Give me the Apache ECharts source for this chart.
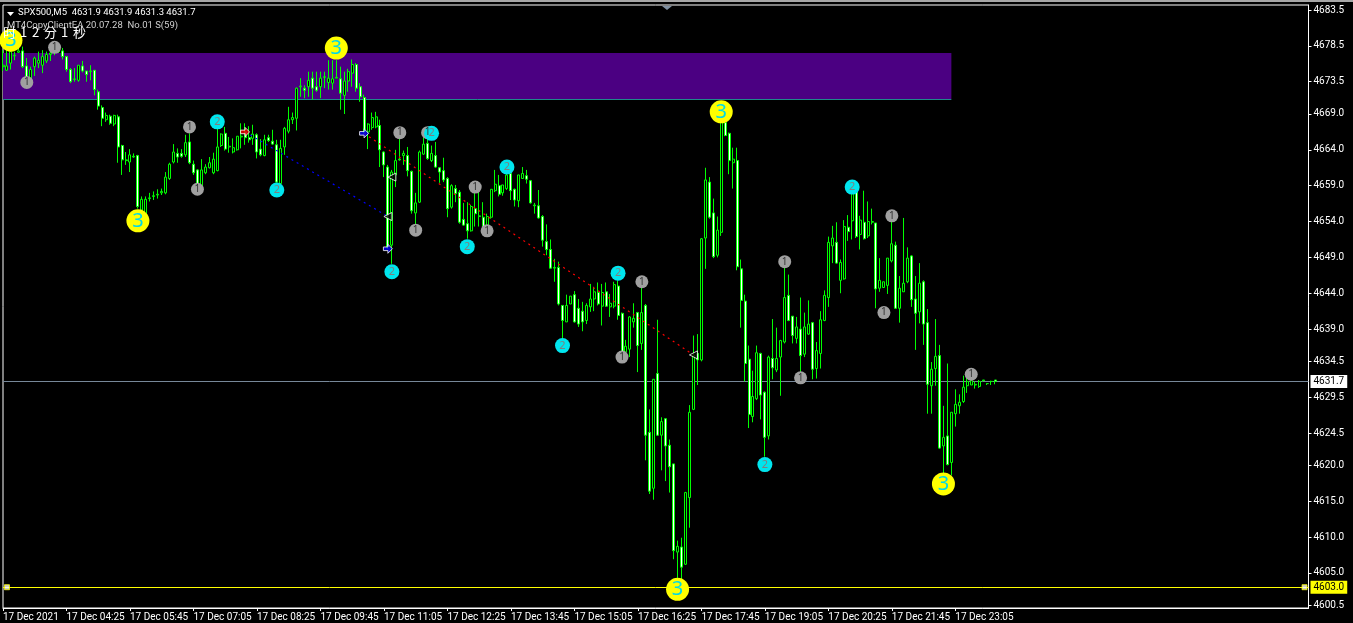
<!DOCTYPE html>
<html>
<head>
<meta charset="utf-8">
<style>
  html, body { margin: 0; padding: 0; background: #000; }
  #chart { width: 1353px; height: 623px; }
</style>
<script src="https://cdn.jsdelivr.net/npm/echarts@6/dist/echarts.min.js"></script>
</head>
<body>
<div id="chart"></div>
<script>
var timeLabels = ["17 Dec 2021", "17 Dec 04:25", "17 Dec 05:45", "17 Dec 07:05", "17 Dec 08:25", "17 Dec 09:45", "17 Dec 11:05", "17 Dec 12:25",
  "17 Dec 13:45", "17 Dec 15:05", "17 Dec 16:25", "17 Dec 17:45", "17 Dec 19:05", "17 Dec 20:25", "17 Dec 21:45", "17 Dec 23:05"];
var priceTicks = [4683.5, 4678.5, 4673.5, 4669.0, 4664.0, 4659.0, 4654.0, 4649.0, 4644.0, 4639.0, 4634.5, 4629.5, 4624.5, 4620.0, 4615.0, 4610.0, 4605.0, 4600.5];

var opens = [
  4675.6, 4675.1, 4676.1, 4677.1, 4677.6, 4677.8, 4675.7, 4673.7, 4675.6, 4676.1,
  4675.8, 4676.4, 4677.3, 4678.0, 4677.7, 4677.8, 4677.0, 4675.2, 4673.8, 4673.7,
  4675.7, 4675.0, 4674.9, 4675.1, 4672.1, 4669.9, 4668.2, 4668.7, 4667.6, 4668.6,
  4664.6, 4662.5, 4662.3, 4663.0, 4663.2, 4655.6, 4655.1, 4657.2, 4657.5, 4657.7,
  4658.0, 4658.0, 4660.0, 4662.3, 4663.5, 4663.5, 4663.3, 4665.1, 4662.0, 4661.2,
  4658.9, 4660.8, 4661.5, 4660.8, 4661.1, 4664.6, 4666.3, 4664.4, 4663.7, 4664.0,
  4665.8, 4666.5, 4665.7, 4665.6, 4666.1, 4664.1, 4663.2, 4665.7, 4665.2, 4664.7,
  4659.3, 4664.4, 4666.6, 4668.2, 4668.4, 4672.8, 4672.6, 4672.8, 4674.0, 4672.8,
  4672.8, 4674.1, 4673.4, 4673.3, 4674.0, 4673.9, 4671.6, 4673.6, 4674.7, 4675.9,
  4672.8, 4671.3, 4666.5, 4667.1, 4667.2, 4667.4, 4663.7, 4661.6, 4650.7, 4660.5,
  4662.6, 4663.2, 4663.2, 4661.0, 4655.2, 4656.7, 4663.4, 4664.9, 4662.5, 4663.2,
  4661.5, 4661.1, 4660.0, 4656.0, 4658.6, 4658.1, 4654.3, 4653.7, 4652.7, 4655.8,
  4654.7, 4654.6, 4653.3, 4654.6, 4658.3, 4659.0, 4658.0, 4658.6, 4660.7, 4658.5,
  4656.9, 4660.0, 4660.4, 4659.7, 4656.2, 4656.2, 4654.7, 4651.2, 4650.1, 4647.5,
  4647.6, 4642.3, 4640.0, 4642.5, 4643.8, 4641.9, 4641.5, 4640.2, 4642.1, 4643.2,
  4644.1, 4642.2, 4644.2, 4642.1, 4642.2, 4645.0, 4641.2, 4635.8, 4636.2, 4640.0,
  4641.3, 4637.0, 4642.3, 4624.6, 4616.8, 4632.8, 4624.2, 4626.5, 4622.8, 4620.2,
  4607.9, 4608.6, 4606.2, 4615.5, 4627.8, 4635.6, 4634.7, 4651.7, 4659.5, 4655.2,
  4649.3, 4652.5, 4667.8, 4666.3, 4662.2, 4662.5, 4647.4, 4642.9, 4634.8, 4626.8,
  4629.3, 4635.6, 4630.2, 4624.1, 4634.9, 4633.3, 4635.1, 4637.2, 4643.7, 4640.8,
  4637.7, 4639.0, 4635.5, 4638.3, 4639.9, 4633.5, 4635.6, 4640.2, 4643.4, 4650.6,
  4651.1, 4645.8, 4646.0, 4653.2, 4654.1, 4658.2, 4652.2, 4653.9, 4652.0, 4653.9,
  4653.8, 4644.7, 4644.8, 4645.1, 4648.5, 4650.7, 4641.9, 4644.2, 4645.6, 4649.2,
  4643.2, 4641.4, 4645.6, 4639.9, 4631.1, 4633.5, 4635.3, 4622.7, 4624.1, 4620.4,
  4627.2, 4628.3, 4628.9, 4631.1, 4631.2, 4631.2, 4631.0, 4631.8, 4631.4, 4631.7, 4631.9
];
var closes = [
  4675.8, 4675.7, 4677.7, 4677.2, 4677.8, 4675.6, 4674.0, 4675.2, 4676.8, 4676.5,
  4677.0, 4677.3, 4677.5, 4678.1, 4678.2, 4677.0, 4675.2, 4673.5, 4673.9, 4675.8,
  4675.0, 4674.5, 4675.0, 4672.4, 4670.1, 4668.4, 4668.8, 4667.7, 4668.8, 4664.4,
  4662.6, 4662.6, 4663.3, 4663.1, 4656.1, 4657.1, 4657.1, 4657.3, 4657.6, 4657.8,
  4658.2, 4660.2, 4662.0, 4663.7, 4663.0, 4663.1, 4665.0, 4662.2, 4660.8, 4659.1,
  4661.2, 4661.6, 4662.2, 4662.7, 4664.4, 4666.2, 4664.1, 4664.5, 4664.3, 4665.9,
  4665.9, 4665.7, 4665.4, 4666.2, 4663.7, 4663.3, 4665.4, 4665.3, 4664.8, 4659.5,
  4664.2, 4667.0, 4668.2, 4668.5, 4672.6, 4672.9, 4672.3, 4673.7, 4672.6, 4672.3,
  4674.0, 4674.2, 4674.0, 4673.9, 4674.1, 4671.9, 4673.6, 4674.9, 4675.9, 4672.6,
  4671.4, 4666.5, 4667.6, 4668.5, 4668.6, 4664.0, 4661.9, 4650.5, 4660.9, 4662.5,
  4662.7, 4663.5, 4661.1, 4655.5, 4656.6, 4663.7, 4664.8, 4662.8, 4663.5, 4661.6,
  4660.9, 4659.8, 4655.8, 4659.0, 4657.9, 4653.9, 4653.5, 4652.7, 4656.1, 4655.1,
  4654.8, 4653.3, 4654.7, 4658.5, 4659.2, 4657.8, 4659.1, 4660.5, 4658.3, 4657.0,
  4660.5, 4660.7, 4659.9, 4656.6, 4656.3, 4654.5, 4651.4, 4650.1, 4647.5, 4647.6,
  4642.5, 4640.2, 4642.3, 4643.6, 4640.0, 4639.7, 4640.0, 4642.3, 4643.2, 4644.2,
  4642.5, 4644.1, 4642.2, 4642.6, 4645.2, 4640.9, 4635.8, 4636.6, 4640.7, 4640.5,
  4636.7, 4641.3, 4624.2, 4616.4, 4632.0, 4624.2, 4626.1, 4622.7, 4619.8, 4608.1,
  4608.7, 4605.8, 4616.2, 4627.4, 4635.4, 4634.7, 4651.6, 4659.8, 4654.6, 4649.1,
  4652.8, 4667.8, 4666.0, 4662.5, 4662.7, 4647.7, 4643.0, 4634.2, 4627.1, 4629.6,
  4635.7, 4629.8, 4623.9, 4635.1, 4633.6, 4634.9, 4637.4, 4643.4, 4640.2, 4638.1,
  4639.3, 4635.3, 4639.3, 4639.7, 4633.4, 4636.0, 4640.3, 4643.7, 4651.1, 4651.7,
  4648.2, 4648.3, 4653.3, 4652.6, 4658.1, 4651.9, 4654.2, 4651.6, 4654.0, 4654.0,
  4644.6, 4645.8, 4645.6, 4648.9, 4650.9, 4641.9, 4644.7, 4645.4, 4648.9, 4643.1,
  4641.2, 4645.4, 4639.7, 4631.3, 4633.4, 4635.2, 4622.4, 4623.9, 4620.1, 4627.4,
  4628.5, 4628.8, 4630.9, 4631.7, 4631.8, 4631.3, 4631.7, 4631.9, 4631.4, 4631.7, 4631.7
];
var highs = [
  4677.9, 4678.2, 4678.4, 4677.7, 4678.4, 4678.4, 4676.8, 4675.6, 4677.0, 4677.7,
  4677.9, 4677.7, 4678.9, 4678.9, 4678.9, 4678.2, 4677.1, 4675.4, 4675.4, 4675.8,
  4676.4, 4675.0, 4675.8, 4675.1, 4672.4, 4670.2, 4669.2, 4668.9, 4668.9, 4668.9,
  4664.7, 4663.7, 4664.1, 4663.5, 4663.3, 4657.5, 4657.5, 4658.0, 4658.2, 4658.5,
  4658.6, 4660.9, 4662.2, 4664.8, 4664.2, 4664.1, 4666.1, 4666.3, 4662.5, 4661.3,
  4662.7, 4662.0, 4663.0, 4663.6, 4667.0, 4666.3, 4667.2, 4665.8, 4665.6, 4665.9,
  4667.7, 4667.7, 4667.3, 4667.5, 4666.3, 4665.5, 4666.1, 4666.1, 4666.8, 4665.4,
  4665.4, 4667.2, 4670.0, 4669.2, 4672.7, 4674.0, 4673.0, 4674.9, 4674.9, 4674.9,
  4674.9, 4674.9, 4676.5, 4676.5, 4676.5, 4675.6, 4674.9, 4675.3, 4676.6, 4676.1,
  4673.3, 4671.7, 4667.7, 4669.2, 4669.3, 4668.2, 4663.8, 4661.9, 4661.2, 4664.0,
  4665.6, 4663.9, 4664.4, 4661.1, 4658.0, 4663.9, 4665.7, 4666.7, 4664.6, 4665.1,
  4661.6, 4662.9, 4660.2, 4659.2, 4659.1, 4658.4, 4656.6, 4656.7, 4656.3, 4658.1,
  4658.4, 4656.7, 4655.1, 4658.5, 4661.2, 4660.5, 4659.1, 4660.7, 4660.9, 4658.6,
  4660.5, 4661.6, 4661.2, 4659.8, 4656.6, 4658.4, 4654.9, 4653.6, 4651.5, 4648.8,
  4648.4, 4642.3, 4643.8, 4643.6, 4644.3, 4643.2, 4642.8, 4642.6, 4645.3, 4644.9,
  4645.5, 4645.3, 4645.5, 4643.9, 4645.6, 4645.8, 4641.3, 4637.5, 4640.8, 4642.6,
  4641.4, 4644.8, 4642.5, 4627.8, 4632.0, 4640.3, 4626.7, 4626.6, 4623.6, 4620.2,
  4609.5, 4609.9, 4616.3, 4628.4, 4638.1, 4638.3, 4651.7, 4661.5, 4660.2, 4657.2,
  4654.7, 4668.3, 4669.0, 4666.4, 4664.3, 4664.3, 4648.7, 4643.8, 4636.7, 4633.2,
  4636.7, 4635.7, 4630.3, 4635.3, 4640.4, 4639.2, 4637.5, 4647.9, 4646.6, 4640.8,
  4640.7, 4643.4, 4641.3, 4643.0, 4640.0, 4637.2, 4641.5, 4644.4, 4651.9, 4653.4,
  4653.9, 4648.7, 4654.2, 4654.9, 4658.8, 4658.2, 4654.8, 4658.3, 4656.8, 4655.8,
  4653.8, 4648.9, 4645.6, 4648.9, 4654.0, 4651.2, 4646.4, 4654.5, 4650.4, 4649.3,
  4646.4, 4648.2, 4645.8, 4641.8, 4634.4, 4640.4, 4636.8, 4628.3, 4634.2, 4627.4,
  4630.6, 4629.9, 4632.5, 4633.1, 4632.8, 4631.7, 4631.9, 4631.9, 4631.4, 4631.8, 4631.9
];
var lows = [
  4675.0, 4675.0, 4675.2, 4676.5, 4677.5, 4675.4, 4673.7, 4673.5, 4674.3, 4675.4,
  4674.7, 4676.1, 4676.4, 4677.2, 4677.5, 4676.6, 4674.9, 4673.3, 4673.5, 4673.5,
  4674.8, 4673.5, 4673.7, 4671.6, 4669.6, 4667.3, 4667.9, 4667.5, 4667.3, 4662.2,
  4660.5, 4661.9, 4660.9, 4662.9, 4655.8, 4655.1, 4654.9, 4656.8, 4657.0, 4657.2,
  4657.7, 4657.8, 4659.8, 4662.1, 4662.2, 4662.9, 4663.0, 4662.0, 4660.5, 4658.2,
  4658.6, 4660.6, 4661.4, 4660.6, 4661.0, 4664.4, 4663.9, 4663.6, 4663.5, 4663.9,
  4664.2, 4664.7, 4665.0, 4664.7, 4662.8, 4663.1, 4663.1, 4665.1, 4664.7, 4659.2,
  4659.2, 4663.3, 4666.3, 4667.6, 4666.7, 4671.4, 4671.2, 4671.4, 4671.0, 4672.1,
  4671.2, 4672.6, 4672.4, 4672.4, 4674.0, 4669.6, 4669.0, 4672.1, 4672.8, 4672.1,
  4670.7, 4666.3, 4664.1, 4666.8, 4667.0, 4661.6, 4660.2, 4650.2, 4648.1, 4658.8,
  4662.5, 4661.9, 4660.3, 4655.1, 4653.5, 4656.6, 4663.3, 4662.6, 4662.3, 4661.5,
  4659.4, 4659.5, 4654.6, 4655.8, 4656.7, 4653.7, 4653.4, 4651.6, 4652.6, 4653.3,
  4653.3, 4652.8, 4652.6, 4654.4, 4658.1, 4657.5, 4657.6, 4658.4, 4657.0, 4656.1,
  4656.0, 4660.0, 4659.3, 4656.5, 4655.1, 4654.4, 4650.5, 4649.3, 4647.4, 4645.6,
  4642.3, 4637.7, 4640.0, 4642.5, 4639.9, 4639.3, 4638.7, 4639.7, 4641.4, 4641.5,
  4642.3, 4639.5, 4642.1, 4640.7, 4641.9, 4640.3, 4635.3, 4635.1, 4635.1, 4639.2,
  4633.0, 4636.1, 4620.7, 4616.0, 4615.2, 4624.1, 4619.3, 4617.8, 4616.2, 4606.9,
  4604.3, 4604.1, 4606.1, 4611.3, 4627.7, 4631.2, 4634.5, 4647.4, 4654.4, 4648.9,
  4649.0, 4652.0, 4665.9, 4660.6, 4658.6, 4647.2, 4639.2, 4631.7, 4625.2, 4626.0,
  4629.1, 4626.4, 4621.2, 4623.6, 4632.0, 4633.0, 4629.7, 4637.0, 4640.1, 4637.0,
  4637.0, 4633.0, 4635.1, 4638.2, 4632.0, 4632.1, 4633.5, 4640.1, 4642.1, 4648.2,
  4648.1, 4644.0, 4645.9, 4651.3, 4651.5, 4651.7, 4650.1, 4651.5, 4651.7, 4653.6,
  4641.9, 4644.2, 4644.8, 4643.9, 4648.3, 4641.8, 4639.9, 4644.2, 4645.4, 4642.1,
  4636.1, 4639.8, 4636.8, 4627.2, 4627.2, 4631.1, 4622.3, 4618.9, 4620.0, 4618.6,
  4625.4, 4627.2, 4628.7, 4630.1, 4631.2, 4630.7, 4630.8, 4631.7, 4631.2, 4631.2, 4631.3
];

// numbered swing marks: [bar, price]
var marks1 = [[6, 4673.4], [13, 4678.3], [47, 4667.2], [49, 4658.5], [100, 4666.4], [107, 4666.4], [104, 4652.8], [119, 4658.8],
  [122, 4652.7], [161, 4645.6], [156, 4635.1], [197, 4648.4], [201, 4632.2], [224, 4654.8], [222, 4641.3], [244, 4632.7]];
var marks2 = [[54, 4667.9], [69, 4658.4], [98, 4647.0], [108, 4666.3], [117, 4650.5], [127, 4661.6], [141, 4636.7], [155, 4646.8],
  [192, 4620.1], [214, 4658.8]];
var marks3 = [[2, 4679.3], [34, 4654.1], [84, 4678.2], [181, 4669.3], [237, 4617.4], [170, 4602.7]];

var zoneTop = 4677.5;
var zoneBottom = 4671.1;
var zoneEndBar = 239;
var bidPrice = 4631.7;
var levelPrice = 4603.0;
var levelHandles = [[1, 4603.0], [328, 4603.0]];
var blueTrade = [[61, 4666.5], [97, 4654.7]];
var redTrade = [[91, 4666.3], [174, 4635.4]];
var redArrows = [[61, 4666.5]];
var blueArrows = [[91, 4666.3], [97, 4650.2]];
var closeTriangles = [[98, 4660.2], [97, 4654.7], [174, 4635.4]];

var BAR_SLOTS = 330;
var BARS_PER_LABEL = 16;
var FONT = "Roboto, sans-serif";
var CJK = '13px "Noto Sans CJK SC"';
var arrowPath = "path://M0,3 L5,3 L5,0 L10,5 L5,10 L5,7 L0,7 Z";

var categories = [];
for (var i = 0; i < BAR_SLOTS; i++) {
  categories.push(i % BARS_PER_LABEL === 0 ? timeLabels[i / BARS_PER_LABEL] || "" : "");
}
var candles = opens.map(function (o, i) {
  return [o, closes[i], lows[i], highs[i]];
});
var isLabelBar = function (i) {
  return i % BARS_PER_LABEL === 0 && i / BARS_PER_LABEL < timeLabels.length;
};

function markSeries(name, data, size, fill, text, textColor, fontSize) {
  return {
    name: name,
    type: "scatter",
    data: data,
    symbol: "circle",
    symbolSize: size,
    z: 5,
    itemStyle: { color: fill, opacity: 1 },
    label: {
      show: true,
      position: "inside",
      formatter: text,
      color: textColor,
      fontFamily: '"Noto Sans", sans-serif',
      fontSize: fontSize,
    },
  };
}

function tradeLine(name, data, color) {
  return {
    name: name,
    type: "line",
    data: data,
    symbol: "none",
    z: 4,
    lineStyle: { color: color, width: 1.2, type: [2, 4] },
  };
}

function cjkText(text, x) {
  return { type: "text", silent: true, z: 20, x: x, y: 26, style: { text: text, fill: "#fff", font: CJK } };
}

var option = {
  backgroundColor: "#000",
  animation: false,
  grid: { left: 2.5, right: 44.5, top: 5, bottom: 15, show: true, borderColor: "#fff", borderWidth: 1, backgroundColor: "#000" },
  xAxis: {
    type: "category",
    data: categories,
    boundaryGap: false,
    axisLine: { lineStyle: { color: "#fff" } },
    axisTick: { interval: isLabelBar, length: 3, lineStyle: { color: "#fff" } },
    axisLabel: { interval: isLabelBar, color: "#fff", fontFamily: FONT, fontSize: 10, align: "left", margin: 4, hideOverlap: false, showMinLabel: true },
    splitLine: { show: false },
  },
  yAxis: {
    type: "value",
    position: "right",
    min: 4600.1,
    max: 4684.2,
    axisLine: { show: true, lineStyle: { color: "#fff" } },
    axisTick: { show: true, customValues: priceTicks, length: 3, lineStyle: { color: "#fff" } },
    axisLabel: {
      customValues: priceTicks,
      color: "#fff",
      fontFamily: FONT,
      fontSize: 10,
      margin: 5,
      formatter: function (v) {
        return v.toFixed(1);
      },
    },
    splitLine: { show: false },
  },
  graphic: [
    { type: "rect", silent: true, shape: { x: 0, y: 0, width: 1353, height: 2 }, style: { fill: "#a6a6a6" } },
    { type: "polygon", silent: true, shape: { points: [[662, 6], [672, 6], [667, 10]] }, style: { fill: "#7f8fa0" } },
    { type: "polygon", silent: true, z: 20, shape: { points: [[7, 12], [14, 12], [10.5, 16]] }, style: { fill: "#fff" } },
    { type: "text", silent: true, z: 20, x: 18, y: 8, style: { text: "SPX500,M5  4631.9 4631.9 4631.3 4631.7", fill: "#fff", font: "9.5px " + FONT } },
    { type: "text", silent: true, z: 20, x: 7, y: 21, style: { text: "MT4CopyClientEA 20.07.28  No.01 S(59)", fill: "#d0d0d0", font: "9.5px " + FONT } },
    cjkText("时", 3),
    cjkText("1", 20),
    cjkText("2", 32),
    cjkText("分", 44),
    cjkText("1", 61),
    cjkText("秒", 73),
  ],
  series: [
    {
      name: "zone",
      type: "line",
      data: [],
      z: 1,
      silent: true,
      markArea: {
        silent: true,
        z: 1,
        itemStyle: { color: "#4b0082", opacity: 1 },
        data: [[{ coord: [0, zoneTop] }, { coord: [zoneEndBar, zoneBottom] }]],
      },
      markLine: {
        silent: true,
        z: 1,
        symbol: "none",
        lineStyle: { color: "#1f8a8a", width: 1, type: "solid" },
        label: { show: false },
        data: [[{ coord: [0, zoneBottom] }, { coord: [zoneEndBar, zoneBottom] }]],
      },
    },
    {
      name: "SPX500,M5",
      type: "candlestick",
      data: candles,
      barWidth: 2.5,
      clip: false,
      z: 3,
      itemStyle: {
        color: "#000",
        color0: "#fff",
        borderColor: "#00ff00",
        borderColor0: "#00ff00",
        borderColorDoji: "#00ff00",
        borderWidth: 1,
      },
      markLine: {
        silent: true,
        symbol: "none",
        z: 2,
        data: [
          {
            yAxis: bidPrice,
            lineStyle: { color: "#778899", width: 1, type: "solid" },
            label: {
              position: "end",
              distance: 2,
              formatter: bidPrice.toFixed(1),
              color: "#000",
              backgroundColor: "#fff",
              padding: [2, 3, 1, 3],
              fontFamily: FONT,
              fontSize: 10,
            },
          },
          {
            yAxis: levelPrice,
            lineStyle: { color: "#ffff00", width: 1, type: "solid" },
            label: {
              position: "end",
              distance: 2,
              formatter: levelPrice.toFixed(1),
              color: "#000",
              backgroundColor: "#ffff00",
              padding: [2, 3, 1, 3],
              fontFamily: FONT,
              fontSize: 10,
            },
          },
        ],
      },
    },
    tradeLine("blue trade", blueTrade, "#0000ff"),
    tradeLine("red trade", redTrade, "#ff0000"),
    {
      name: "level handles",
      type: "scatter",
      data: levelHandles,
      symbol: "rect",
      symbolSize: 5,
      z: 6,
      itemStyle: { color: "#fff", borderColor: "#ffff00", borderWidth: 1 },
    },
    {
      name: "red arrows",
      type: "scatter",
      data: redArrows,
      symbol: arrowPath,
      symbolSize: 9,
      z: 6,
      itemStyle: { color: "#ff0000", borderColor: "#fff", borderWidth: 1 },
    },
    {
      name: "blue arrows",
      type: "scatter",
      data: blueArrows,
      symbol: arrowPath,
      symbolSize: 9,
      z: 6,
      itemStyle: { color: "#0000ff", borderColor: "#fff", borderWidth: 1 },
    },
    {
      name: "close triangles",
      type: "scatter",
      data: closeTriangles,
      symbol: "triangle",
      symbolRotate: 90,
      symbolSize: 8,
      z: 6,
      itemStyle: { color: "#000", borderColor: "#fff", borderWidth: 1 },
    },
    markSeries("marks 1", marks1, 13, "#a0a0a0", "1", "#303030", 10),
    markSeries("marks 2", marks2, 15, "#00e5ee", "2", "#7f7f7f", 11),
    markSeries("marks 3", marks3, 23, "#ffff00", "3", "#00d8e8", 20),
  ],
};

var chart = echarts.init(document.getElementById("chart"));
chart.setOption(option);
</script>
</body>
</html>
